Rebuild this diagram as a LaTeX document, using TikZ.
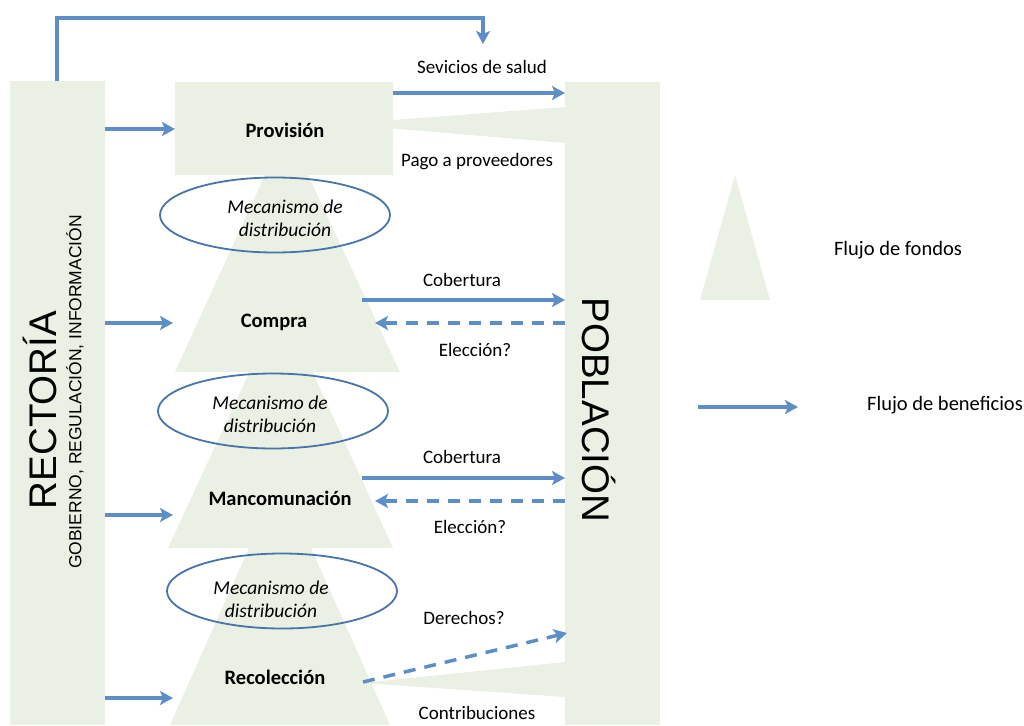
\documentclass[tikz,border=0pt]{standalone}
\usepackage{fontspec}
\setmainfont{Carlito}
\newfontfamily\arialf{Liberation Sans}
\usetikzlibrary{arrows.meta,shapes.geometric}
\definecolor{fundc}{RGB}{235,240,228}
\definecolor{flowc}{RGB}{94,142,199}
\definecolor{ellc}{RGB}{72,116,170}
\tikzset{
  fundbox/.style={fill=fundc, draw=none, inner sep=0pt, outer sep=0pt, anchor=north west},
  flowarrow/.style={draw=flowc, line width=3.5pt, -{Stealth[length=13pt,width=14pt,inset=3pt]}},
  flowdash/.style={flowarrow, dash pattern=on 12pt off 9pt},
  lbl/.style={font=\fontsize{19}{23}\selectfont, inner sep=0pt},
  blbl/.style={font=\fontsize{20.5}{24}\selectfont\bfseries, inner sep=0pt},
  mech/.style={draw=ellc, line width=1.8pt, ellipse, inner sep=0pt, minimum width=230pt, minimum height=75pt},
  mechtxt/.style={font=\fontsize{19.5}{23}\selectfont\itshape, align=center, inner sep=0pt},
  legtxt/.style={font=\fontsize{20.5}{24}\selectfont, inner sep=0pt}
}
\begin{document}
\begin{tikzpicture}[x=1pt,y=-1pt]
\useasboundingbox (0,0) rectangle (1024,725);
% funnels (flow of funds)
\fill[fundc] (265,175) -- (308,175) -- (400,372) -- (175,372) -- cycle;
\fill[fundc] (249.5,372) -- (312.5,372) -- (393,548) -- (168,548) -- cycle;
\fill[fundc] (249,548) -- (311,548) -- (390,725) -- (170,725) -- cycle;
% big boxes
\node[fundbox, minimum width=95pt, minimum height=644pt] (rect) at (10,81) {};
\node[fundbox, minimum width=95pt, minimum height=643pt] (pobl) at (565,82) {};
\node[fundbox, minimum width=218pt, minimum height=93pt] (prov) at (175,82) {};
% wedges
\fill[fundc] (pobl.west |- 0,107) -- (pobl.west |- 0,143) -- (340,124) -- cycle;
\fill[fundc] (pobl.west |- 0,662) -- (pobl.west |- 0,697) -- (363,683) -- cycle;
% legend triangle
\fill[fundc] (735,175) -- (770,300) -- (700,300) -- cycle;
% titles
\node[rotate=90, font=\arialf\fontsize{38.5}{40}\selectfont, inner sep=0pt] (trect) at (40,410) {RECTORÍA};
\node[rotate=90, font=\arialf\fontsize{17.5}{20}\selectfont, inner sep=0pt] (tsub) at (75,392) {GOBIERNO, REGULACIÓN, INFORMACIÓN};
\node[rotate=-90, font=\arialf\fontsize{38.5}{40}\selectfont, inner sep=0pt] (tpobl) at (599,410) {POBLACIÓN};
% stage labels
\node[blbl] (lprov) at (285,130) {Provisión};
\node[blbl] (lcomp) at (274,322) {Compra};
\node[blbl] (lmanc) at (280,498) {Mancomunación};
\node[blbl] (lrec) at (275,677) {Recolección};
% mechanisms
\node[mech] (m1) at (275,215) {};
\node[mech] (m2) at (273,411) {};
\node[mech] (m3) at (282,591) {};
\node[mechtxt] (mt1) at (285,218) {Mecanismo de\\distribución};
\node[mechtxt] (mt2) at (270,414) {Mecanismo de\\distribución};
\node[mechtxt] (mt3) at (271,599) {Mecanismo de\\distribución};
% flow labels
\node[lbl] (lsev) at (482,67) {Sevicios de salud};
\node[lbl] (lpago) at (477,162) {Pago a proveedores};
\node[lbl] (lcob1) at (462,280) {Cobertura};
\node[lbl] (lele1) at (475,350) {Elección?};
\node[lbl] (lcob2) at (462,457) {Cobertura};
\node[lbl] (lele2) at (470,527) {Elección?};
\node[lbl] (lder) at (464,618) {Derechos?};
\node[lbl] (lcon) at (477,713) {Contribuciones};
% coordinates for connector ends
\coordinate (rtop) at (57,81);
\coordinate (sevin) at (483,44);
\coordinate (compL) at (173,323);
\coordinate (mancL) at (173,515);
\coordinate (recL) at (173,698);
\coordinate (compR) at (362,300);
\coordinate (compD) at (375,323);
\coordinate (mancR) at (362,478);
\coordinate (mancD) at (375,501);
\coordinate (recR) at (363,682);
\coordinate (poblD) at (567,633);
% connectors
\draw[flowarrow] (rtop) -- ++(0,-63) -| (sevin);
\draw[flowarrow] (prov.east |- 0,93) -- (pobl.west |- 0,93);
\draw[flowarrow] (rect.east |- 0,129) -- (prov.west |- 0,129);
\draw[flowarrow] (rect.east |- compL) -- (compL);
\draw[flowarrow] (rect.east |- mancL) -- (mancL);
\draw[flowarrow] (rect.east |- recL) -- (recL);
\draw[flowarrow] (compR) -- (pobl.west |- compR);
\draw[flowdash] (pobl.west |- compD) -- (compD);
\draw[flowarrow] (mancR) -- (pobl.west |- mancR);
\draw[flowdash] (pobl.west |- mancD) -- (mancD);
\draw[flowdash] (recR) -- (poblD);
% legend
\node[legtxt] (lfon) at (898,250) {Flujo de fondos};
\coordinate (legA) at (698,407);
\coordinate (legB) at (798,407);
\draw[flowarrow] (legA) -- (legB);
\node[legtxt] (lben) at (945,405) {Flujo de beneficios};
\end{tikzpicture}
\end{document}
